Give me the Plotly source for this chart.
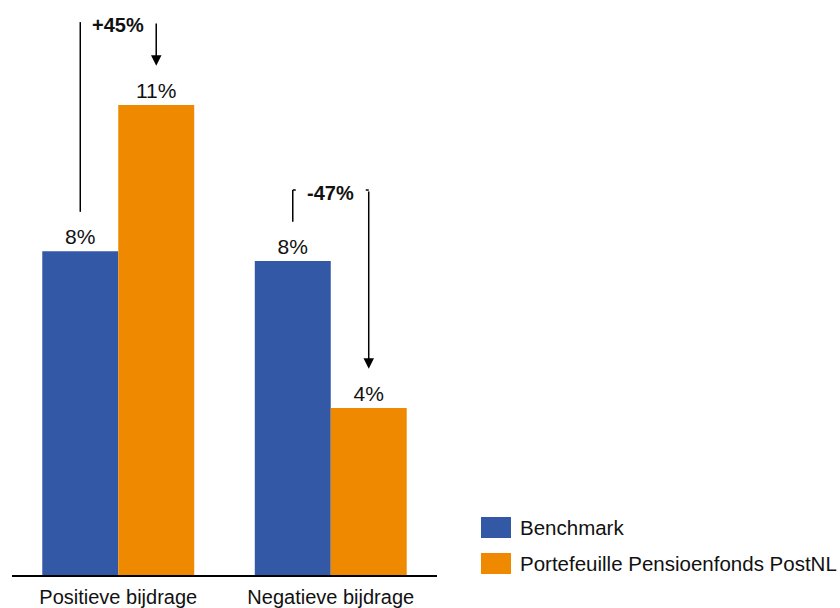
import plotly.graph_objects as go

categories = ["Positieve bijdrage", "Negatieve bijdrage"]
series_names = ["Benchmark", "Portefeuille Pensioenfonds PostNL"]
benchmark = [7.58, 7.35]
portefeuille = [11.0, 3.91]
benchmark_labels = ["8%", "8%"]
portefeuille_labels = ["11%", "4%"]

BLUE = "#3358A6"
ORANGE = "#EF8A00"
TXT = "#111111"
FONT = "Liberation Sans, Arial, sans-serif"

fig = go.Figure()
fig.add_trace(go.Bar(x=categories, y=benchmark, name=series_names[0], marker_color=BLUE,
                     marker_line_width=0, text=benchmark_labels, textposition="outside",
                     textfont=dict(size=21, color=TXT, family=FONT), cliponaxis=False,
                     showlegend=False))
fig.add_trace(go.Bar(x=categories, y=portefeuille, name=series_names[1], marker_color=ORANGE,
                     marker_line_width=0, text=portefeuille_labels, textposition="outside",
                     textfont=dict(size=21, color=TXT, family=FONT), cliponaxis=False,
                     showlegend=False))

bargap = 0.285
off = (1 - bargap) / 4  # center offset of each bar within a group

shapes = []
annotations = []
line = dict(color="black", width=1.5)
tops = [12.94, 9.01]
gap = 0.92
tick = 0.014
for i in range(len(categories)):
    change = round((portefeuille[i] / benchmark[i] - 1) * 100)
    lbl = f"+{change}%" if change > 0 else f"{change}%"
    xb = i - off
    xp = i + off
    shapes.append(dict(type="line", xref="x", yref="y", x0=xb, x1=xb,
                       y0=benchmark[i] + gap, y1=tops[i], line=line))
    if i == 1:
        shapes.append(dict(type="line", xref="x", yref="y", x0=xb, x1=xb + tick,
                           y0=tops[i], y1=tops[i], line=line))
        shapes.append(dict(type="line", xref="x", yref="y", x0=xp - tick, x1=xp,
                           y0=tops[i], y1=tops[i], line=line))
    annotations.append(dict(x=xp, y=portefeuille[i] + gap, ax=xp, ay=tops[i],
                            xref="x", yref="y", axref="x", ayref="y", text="",
                            showarrow=True, arrowhead=2, arrowsize=1.4, arrowwidth=1.5,
                            arrowcolor="black", standoff=0))
    annotations.append(dict(x=i, y=tops[i] - 0.07, xref="x", yref="y", text=f"<b>{lbl}</b>",
                            showarrow=False, font=dict(size=20, color=TXT, family=FONT),
                            yanchor="middle"))

# legend drawn manually (larger swatches)
L, W_PLOT = 12, 425
H_PLOT = 575
def px_x(p):
    return (p - L) / W_PLOT
def px_y(p):
    return (H_PLOT - p) / H_PLOT

legend_rows = [(517, 538, BLUE), (553, 574, ORANGE)]
for (y0, y1, col), name in zip(legend_rows, series_names):
    shapes.append(dict(type="rect", xref="paper", yref="paper", x0=px_x(481), x1=px_x(511),
                       y0=px_y(y1), y1=px_y(y0), fillcolor=col, line=dict(width=0)))
    annotations.append(dict(x=px_x(518), y=px_y((y0 + y1) / 2), xref="paper", yref="paper",
                            text=name, showarrow=False, xanchor="left", yanchor="middle",
                            font=dict(size=20.5, color=TXT, family=FONT)))

fig.update_layout(
    width=840, height=608,
    margin=dict(l=12, r=403, t=0, b=33, autoexpand=False),
    barmode="group", bargap=bargap, bargroupgap=0,
    plot_bgcolor="white", paper_bgcolor="white",
    showlegend=False,
    shapes=shapes, annotations=annotations,
    font=dict(family=FONT, color=TXT),
)
fig.update_xaxes(range=[-0.5, 1.5], showline=True, linecolor="black", linewidth=2,
                 showgrid=False, ticks="outside", ticklen=3, tickcolor="white",
                 tickfont=dict(size=20, color=TXT, family=FONT), fixedrange=True,
                 automargin=False)
fig.update_yaxes(range=[0, 575 / (470 / 11.0)], visible=False, showgrid=False, fixedrange=True)

fig.write_html("out.html", config={"displayModeBar": False},
               post_script="document.body.style.margin='0';")
